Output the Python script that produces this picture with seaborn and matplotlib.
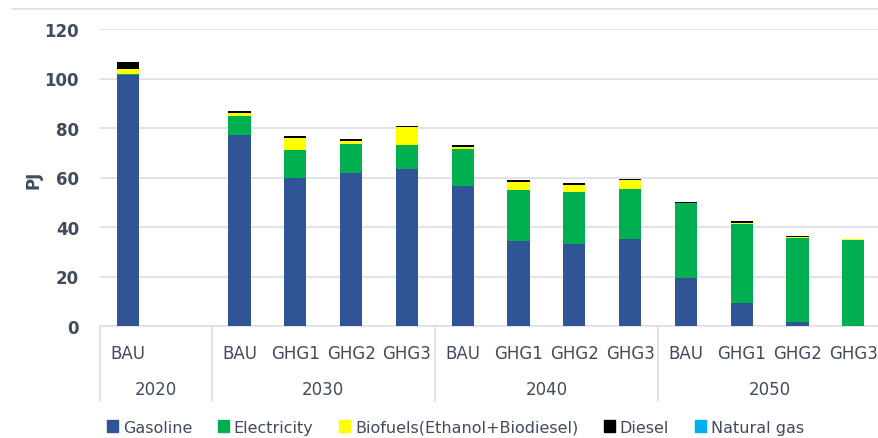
import pandas as pd
import matplotlib.pyplot as plt
import matplotlib.transforms as mtransforms
from matplotlib.lines import Line2D
import seaborn as sns

# Data (PJ)
years = ["2020", "2030", "2040", "2050"]
scenarios = ["BAU", "GHG1", "GHG2", "GHG3"]
bar_year = ["2020"] + ["2030"] * 4 + ["2040"] * 4 + ["2050"] * 4
bar_scen = ["BAU"] + scenarios * 3

gasoline = [101.3, 77.3, 59.7, 61.9, 63.3, 56.4, 34.2, 33.1, 35.0, 19.3, 9.2, 1.7, 0.0]
electricity = [0.4, 7.5, 11.4, 11.6, 10.0, 15.1, 20.9, 21.2, 20.4, 30.4, 32.0, 34.0, 34.9]
biofuels = [2.0, 1.4, 5.0, 1.2, 7.2, 0.7, 3.2, 2.8, 3.5, 0.1, 0.4, 0.4, 0.4]
diesel = [3.0, 0.5, 0.8, 0.8, 0.3, 0.8, 0.7, 0.8, 0.5, 0.4, 0.9, 0.3, 0.0]
natural_gas = [0.0] * 13

fuels = ["Gasoline", "Electricity", "Biofuels(Ethanol+Biodiesel)", "Diesel", "Natural gas"]
colors = ["#2F5597", "#00B050", "#FFFF00", "#000000", "#00B0F0"]

df = pd.DataFrame({
    "key": [y + " " + s for y, s in zip(bar_year, bar_scen)],
    "Gasoline": gasoline,
    "Electricity": electricity,
    "Biofuels(Ethanol+Biodiesel)": biofuels,
    "Diesel": diesel,
    "Natural gas": natural_gas,
})

# category order, with an empty slot after 2020
order = ["2020 BAU", "2020 -"] + [y + " " + s for y in years[1:] for s in scenarios]
tick_labels = ["BAU", ""] + scenarios * 3

sns.set_style("white")
text_col = "#404B5C"
plt.rcParams["font.family"] = ["DejaVu Sans"]
plt.rcParams["text.color"] = text_col

fig = plt.figure(figsize=(8.79, 4.39), dpi=100)
ax = fig.add_axes([100 / 879, 1 - 327 / 439, 779 / 879, 297 / 439])

bottom = pd.Series(0.0, index=df.index)
for fuel, c in zip(fuels, colors):
    sns.barplot(data=df, x="key", y=fuel, order=order, color=c, width=0.4,
                bottom=bottom.values, linewidth=0, saturation=1,
                ax=ax, zorder=3)
    bottom = bottom + df[fuel]

ax.set_ylim(0, 120)
ax.set_xlim(-0.5, -0.5 + 779 / 55.8)
ax.set_yticks(range(0, 121, 20))
ax.set_yticklabels([str(v) for v in range(0, 121, 20)], fontsize=12,
                   fontweight="bold", color=text_col)
ax.set_xticks(range(len(order)))
ax.set_xticklabels(tick_labels, fontsize=12, color=text_col)
ax.tick_params(axis="y", length=0, pad=15)
ax.tick_params(axis="x", length=0, pad=13)
ax.set_xlabel("")
ax.set_ylabel("")
ax.grid(axis="y", color="#DDE1E6", linewidth=1.3, zorder=0)
for s in ["left", "right", "top"]:
    ax.spines[s].set_visible(False)
ax.spines["bottom"].set_color("#DDE1E6")
ax.spines["bottom"].set_linewidth(1.3)

# group separators and year labels below the axis
trans = mtransforms.blended_transform_factory(ax.transData, ax.transAxes)
for xb in [-0.5, 1.5, 5.5, 9.5]:
    ax.plot([xb, xb], [0, -0.2525], color="#DDE1E6", lw=1.3,
            transform=trans, clip_on=False)
for yr, xc in zip(years, [0.5, 3.5, 7.5, 11.5]):
    ax.text(xc, -0.213, yr, transform=trans, ha="center", va="center",
            fontsize=12, color=text_col)

fig.text(33 / 879, 1 - 180 / 439, "PJ", rotation=90, ha="center", va="center",
         fontsize=12, fontweight="bold", color=text_col)

# top border of the chart area
fig.add_artist(Line2D([12 / 879, 1], [1 - 10 / 439] * 2, color="#DDE1E6", lw=1.3))

handles = [plt.Rectangle((0, 0), 1, 1, color=c) for c in colors]
fig.legend(handles, fuels, loc="center", bbox_to_anchor=(0.518, 0.025), ncol=5,
           frameon=False, fontsize=11.5, handlelength=0.7, handleheight=0.7,
           handletextpad=0.3, columnspacing=1.6)

fig.savefig("out.png", dpi=100)
